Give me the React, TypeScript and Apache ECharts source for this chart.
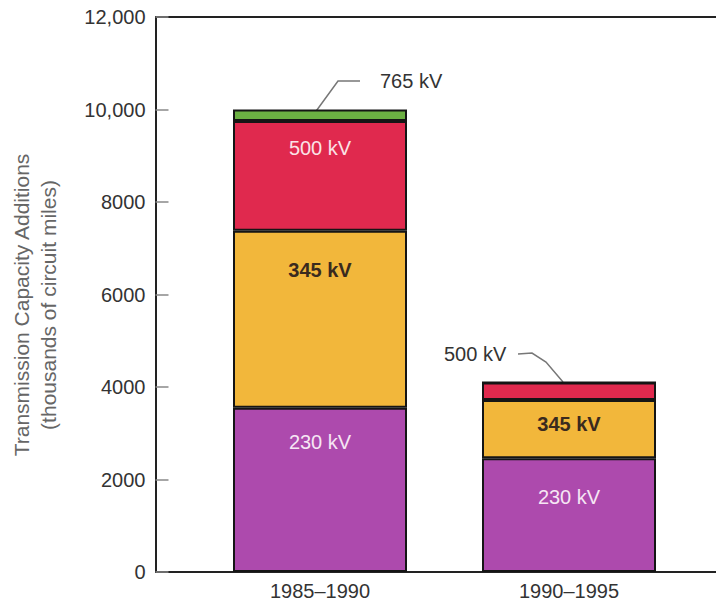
import React, { useEffect, useRef } from "react";
import * as echarts from "echarts";

const categories = ["1985–1990", "1990–1995"];
const kv230 = [3550, 2460];
const kv345 = [3830, 1260];
const kv500 = [2370, 380];
const kv765 = [250, 0];
const yTicks = [0, 2000, 4000, 6000, 8000, 10000, 12000];

const FONT = "'Liberation Sans', Arial, sans-serif";
const FS = 20;

export default function App() {
  const ref = useRef<HTMLDivElement>(null);
  useEffect(() => {
    if (!ref.current) return;
    const chart = echarts.init(ref.current, undefined, { renderer: "svg" });
    const border = { borderColor: "#151515", borderWidth: 2 };
    const lbl = (color: string, dist: number[], show: boolean[], weight = "normal") => (v: number, i: number) => ({
      value: v,
      label: {
        show: show[i],
        position: "insideTop",
        distance: dist[i],
        color,
        fontSize: FS,
        fontWeight: weight,
        fontFamily: FONT,
        formatter: "{a}",
      },
    });
    chart.setOption({
      animation: false,
      grid: { left: 195.5, right: 22.5, top: 17, bottom: 30 },
      xAxis: {
        type: "category",
        data: categories,
        axisLine: { show: false },
        axisTick: { show: false },
        axisLabel: { color: "#333", fontSize: FS, fontFamily: FONT, margin: 9 },
      },
      yAxis: {
        type: "value",
        min: yTicks[0],
        max: yTicks[yTicks.length - 1],
        interval: 2000,
        offset: 40,
        splitLine: { show: false },
        axisLine: { show: true, lineStyle: { color: "#222", width: 2 } },
        axisTick: { show: true, inside: true, length: 13, lineStyle: { color: "#888", width: 1.5 } },
        axisLabel: {
          color: "#333",
          fontSize: FS,
          fontFamily: FONT,
          margin: 10,
          formatter: (v: number) => (v >= 10000 ? v.toLocaleString("en-US") : String(v)),
        },
      },
      series: [
        {
          name: "230 kV",
          type: "bar",
          stack: "a",
          barWidth: 174,
          itemStyle: { color: "#AD4AAD", ...border },
          data: kv230.map(lbl("#F6E6F4", [24, 29], [true, true])),
        },
        {
          name: "345 kV",
          type: "bar",
          stack: "a",
          itemStyle: { color: "#F2B73B", ...border },
          data: kv345.map(lbl("#3a2a1e", [29, 14], [true, true], "bold")),
        },
        {
          name: "500 kV",
          type: "bar",
          stack: "a",
          itemStyle: { color: "#E0294E", ...border },
          data: kv500.map(lbl("#FBE3E6", [17, 0], [true, false])),
        },
        {
          name: "765 kV",
          type: "bar",
          stack: "a",
          itemStyle: { color: "#6CB043", ...border },
          data: kv765,
        },
      ],
      graphic: [
        { type: "line", shape: { x1: 155, y1: 17, x2: 716, y2: 17 }, style: { stroke: "#222", lineWidth: 2 } },
        { type: "line", shape: { x1: 155, y1: 572, x2: 716, y2: 572 }, style: { stroke: "#222", lineWidth: 2 } },
        {
          type: "polyline",
          shape: { points: [[314, 114], [338, 81], [360, 81]] },
          style: { stroke: "#777", lineWidth: 1.5, fill: "none" },
        },
        {
          type: "text",
          x: 380,
          y: 81,
          style: { text: "765 kV", fill: "#333", font: `${FS}px ${FONT}`, verticalAlign: "middle" },
        },
        {
          type: "polyline",
          shape: { points: [[518, 354], [532, 353], [546, 362], [563, 382]] },
          style: { stroke: "#777", lineWidth: 1.5, fill: "none" },
        },
        {
          type: "text",
          x: 444,
          y: 354,
          style: { text: "500 kV", fill: "#333", font: `${FS}px ${FONT}`, verticalAlign: "middle" },
        },
        {
          type: "text",
          x: 8,
          y: 305,
          rotation: Math.PI / 2,
          style: {
            text: "Transmission Capacity Additions\n(thousands of circuit miles)",
            fill: "#666",
            font: `21px ${FONT}`,
            align: "center",
            verticalAlign: "top",
            lineHeight: 27,
          },
        },
      ],
    });
    return () => chart.dispose();
  }, []);
  return <div ref={ref} style={{ width: 716, height: 602, position: "absolute", left: 0, top: 0 }} />;
}
